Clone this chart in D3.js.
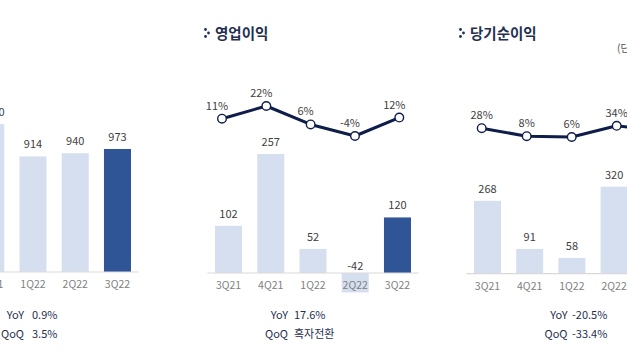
<!DOCTYPE html>
<html>
<head>
<meta charset="utf-8">
<script src="https://cdn.jsdelivr.net/npm/d3@7/dist/d3.min.js"></script>
<style>
  html, body { margin: 0; padding: 0; background: #ffffff; }
  svg { display: block; font-family: "Noto Sans CJK KR", "Noto Sans", sans-serif; }
</style>
</head>
<body>
<div id="chart"></div>
<script>
// ---------- data ----------
const quarters   = ["3Q21", "4Q21", "1Q22", "2Q22", "3Q22"];
const revenue    = [964, 1170, 914, 940, 973];   // 매출액 (left panel, partly cut off)
const opIncome   = [102, 257, 52, -42, 120];     // 영업이익
const opMargin   = [11, 22, 6, -4, 12];          // 영업이익률 (%)
const netIncome  = [268, 91, 58, 320, 213];      // 당기순이익
const netMargin  = [28, 8, 6, 34, 22];           // 순이익률 (%)
const titles     = ["매출액", "영업이익", "당기순이익"];
const unitLabel  = "(단위: 십억원)";
const revChange  = ["0.9%", "3.5%"];
const opChange   = ["17.6%", "흑자전환"];
const netChange  = ["-20.5%", "-33.4%"];
const changeKeys = ["YoY", "QoQ"];

// ---------- styles ----------
const W = 627, H = 362;
const LIGHT = "#d6dff0", DARK = "#2f5597", LINE = "#0e1d4a";
const NAVY = "#1f3050";

const svg = d3.select("#chart").append("svg")
  .attr("width", W).attr("height", H).attr("viewBox", `0 0 ${W} ${H}`);

const fmt = v => d3.format(",")(v).replace("\u2212", "-");

// panel layout
const panels = [
  { title: titles[0], bars: revenue, line: null, change: revChange,
    band: [-72.6, 138.6], base: 272, refVal: 973, refY: 149,
    titleX: -60, keyEnd: 24, valStart: 32 },
  { title: titles[1], bars: opIncome, line: opMargin, change: opChange,
    band: [207.4, 418.6], base: 273, refVal: 257, refY: 154,
    lineX: [222, 399.3], lineDom: [-4, 22], lineRange: [136, 106], lineDx: -5,
    titleX: 215, keyEnd: 288, valStart: 294 },
  { title: titles[2], bars: netIncome, line: netMargin, change: netChange,
    band: [466.4, 677.4], base: 273.7, refVal: 320, refY: 186.7,
    lineX: [481.7, 661.7], lineDom: [6, 34], lineRange: [137, 125.8], lineDx: 0,
    titleX: 470, keyEnd: 567.5, valStart: 572 }
];

panels.forEach(p => {
  const g = svg.append("g");
  const x = d3.scaleBand().domain(quarters).range(p.band)
    .paddingInner(0.36).paddingOuter(0.18);
  const y = d3.scaleLinear().domain([0, p.refVal]).range([p.base, p.refY]);

  // title with three-dot icon
  const tg = g.append("g");
  [[-9.5, -9], [-6.5, -5.5], [-9.5, -2]].forEach(([dx, dy]) => {
    tg.append("circle").attr("cx", p.titleX + dx).attr("cy", 38.5 + dy)
      .attr("r", 1.4).attr("fill", NAVY);
  });
  tg.append("text").attr("x", p.titleX).attr("y", 38.5)
    .attr("font-size", 14.5).attr("font-weight", 700).attr("fill", NAVY)
    .text(p.title);

  // bars
  g.selectAll("rect.bar").data(p.bars).join("rect").attr("class", "bar")
    .attr("x", (d, i) => x(quarters[i]))
    .attr("width", x.bandwidth())
    .attr("y", d => d >= 0 ? y(d) : y(0))
    .attr("height", d => Math.abs(y(d) - y(0)))
    .attr("fill", (d, i) => i === quarters.length - 1 ? DARK : LIGHT);

  // baseline
  g.append("line").attr("x1", p.band[0]).attr("x2", p.band[1])
    .attr("y1", y(0)).attr("y2", y(0))
    .attr("stroke", "#d9d9d9").attr("stroke-width", 1.2);

  // category labels
  g.selectAll("text.cat").data(quarters).join("text").attr("class", "cat")
    .attr("x", d => x(d) + x.bandwidth() / 2).attr("y", p.base + 16)
    .attr("text-anchor", "middle").attr("font-size", 10.5).attr("fill", "#808080")
    .text(d => d);

  // value labels
  g.selectAll("text.val").data(p.bars).join("text").attr("class", "val")
    .attr("x", (d, i) => x(quarters[i]) + x.bandwidth() / 2)
    .attr("y", d => d >= 0 ? y(d) - 8 : y(0) - 3)
    .attr("text-anchor", "middle").attr("font-size", 11).attr("fill", "#404040")
    .text(d => fmt(d));

  // margin line
  if (p.line) {
    const lx = d3.scalePoint().domain(quarters).range(p.lineX);
    const ly = d3.scaleLinear().domain(p.lineDom).range(p.lineRange);
    const lineGen = d3.line().x((d, i) => lx(quarters[i])).y(d => ly(d));
    g.append("path").datum(p.line).attr("d", lineGen)
      .attr("fill", "none").attr("stroke", LINE).attr("stroke-width", 3)
      .attr("stroke-linejoin", "round");
    g.selectAll("circle.pt").data(p.line).join("circle").attr("class", "pt")
      .attr("cx", (d, i) => lx(quarters[i])).attr("cy", d => ly(d))
      .attr("r", 4.3).attr("fill", "#fff").attr("stroke", LINE).attr("stroke-width", 1.4);
    g.selectAll("text.pct").data(p.line).join("text").attr("class", "pct")
      .attr("x", (d, i) => lx(quarters[i]) + p.lineDx).attr("y", d => ly(d) - 9)
      .attr("text-anchor", "middle").attr("font-size", 11).attr("fill", "#404040")
      .text(d => d + "%");
  }

  // YoY / QoQ
  changeKeys.forEach((k, i) => {
    const yy = 319 + i * 19;
    g.append("text").attr("x", p.keyEnd).attr("y", yy).attr("text-anchor", "end")
      .attr("font-size", 11).attr("fill", NAVY).text(k);
    g.append("text").attr("x", p.valStart).attr("y", yy)
      .attr("font-size", 11).attr("fill", NAVY).text(p.change[i]);
  });
});

// unit label (cut off at the right edge)
svg.append("text").attr("x", 617).attr("y", 52)
  .attr("font-size", 10.5).attr("fill", "#555").text(unitLabel);
</script>
</body>
</html>
